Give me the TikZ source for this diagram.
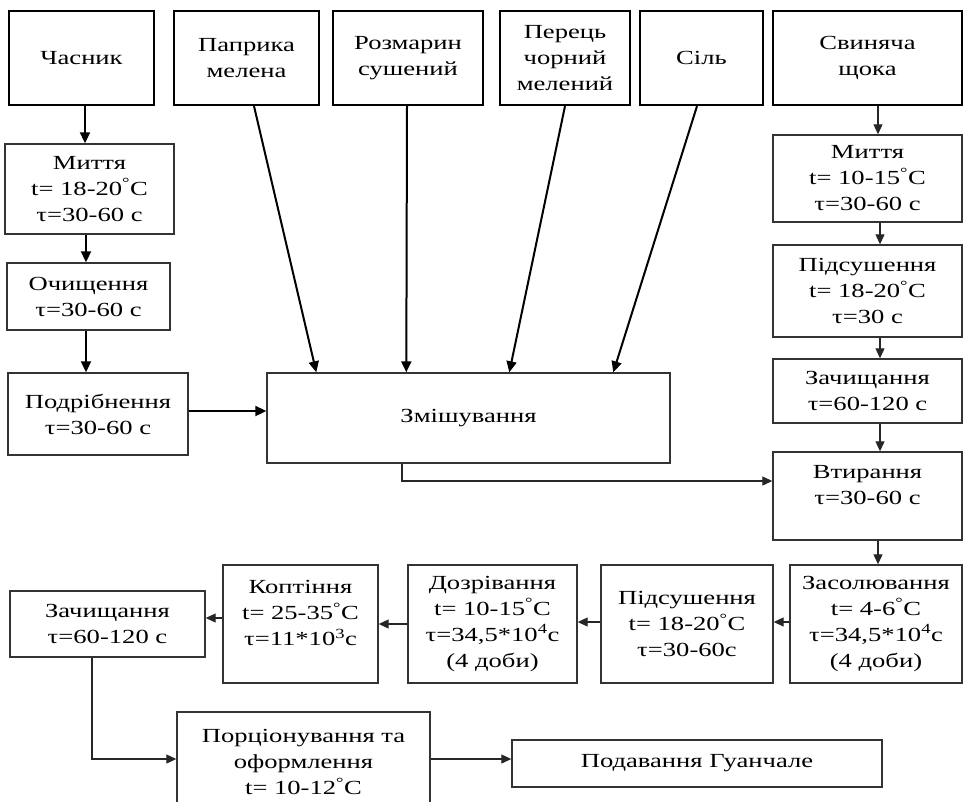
\documentclass[tikz,border=0pt]{standalone}
\usepackage{fontspec}
\setmainfont{Liberation Serif}[FakeStretch=1.33]
\usetikzlibrary{arrows.meta,calc}

\tikzset{
  every node/.style={font=\fontsize{20}{26}\selectfont, align=center, inner sep=0pt},
  rawbox/.style={draw=black, line width=2.2pt, rectangle},
  stepbox/.style={draw=black!80, line width=1.4pt, rectangle},
  lbl/.style={},
  arr/.style={line width=1.1pt, draw=black!85, -{Triangle[length=10pt,width=9pt]}},
  arrthick/.style={line width=2pt, draw=black, -{Triangle[length=11pt,width=10pt]}},
}

\begin{document}
\begin{tikzpicture}[x=1pt,y=-1pt]
\useasboundingbox (0,0) rectangle (964,801);
\clip (0,0) rectangle (964,801);
\fill[white] (0,0) rectangle (964,801);

% raw materials
\node[rawbox, minimum width=145, minimum height=94] (chas)   at (81.5,58)  {Часник};
\node[rawbox, minimum width=145, minimum height=94] (papr)   at (246.5,58) {Паприка\\мелена};
\node[rawbox, minimum width=150, minimum height=94] (rozm)   at (408,58)   {Розмарин\\сушений};
\node[rawbox, minimum width=130, minimum height=94] (perets) at (565,58)   {Перець\\чорний\\мелений};
\node[rawbox, minimum width=123, minimum height=94] (sil)    at (701.5,58) {Сіль};
\node[rawbox, minimum width=189, minimum height=94] (svyn)   at (867.5,58) {Свиняча\\щока};

% garlic line
\node[stepbox, minimum width=169, minimum height=90] (myt1)  at (89.5,189)  {Миття\\t= 18-20\textsuperscript{°}C\\τ=30-60 с};
\node[stepbox, minimum width=163, minimum height=67] (ochys) at (88.5,296.5) {Очищення\\τ=30-60 с};
\node[stepbox, minimum width=180, minimum height=82] (podr)  at (98,414)    {Подрібнення\\τ=30-60 с};

% mixing
\node[stepbox, minimum width=403, minimum height=90] (zmish) at (468.5,418) {Змішування};

% pork cheek line
\node[stepbox, minimum width=189, minimum height=87] (myt2)  at (867.5,178.5) {Миття\\t= 10-15\textsuperscript{°}C\\τ=30-60 с};
\node[stepbox, minimum width=189, minimum height=92] (pids1) at (867.5,291)   {Підсушення\\t= 18-20\textsuperscript{°}C\\τ=30 с};
\node[stepbox, minimum width=189, minimum height=64] (zach1) at (867.5,391)   {Зачищання\\τ=60-120 с};
\node[stepbox, minimum width=189, minimum height=88] (vtyr)  at (867.5,496)   {};
\node[lbl] (vtyrT) at (867.5,485) {Втирання\\τ=30-60 с};

% processing row
\node[stepbox, minimum width=172, minimum height=118] (zasol) at (876,624)   {Засолювання\\t= 4-6\textsuperscript{°}C\\τ=34,5*10\textsuperscript{4}с\\(4 доби)};
\node[stepbox, minimum width=172, minimum height=118] (pids2) at (687,624)   {Підсушення\\t= 18-20\textsuperscript{°}C\\τ=30-60с};
\node[stepbox, minimum width=169, minimum height=118] (dozr)  at (492.5,624) {Дозрівання\\t= 10-15\textsuperscript{°}C\\τ=34,5*10\textsuperscript{4}с\\(4 доби)};
\node[stepbox, minimum width=155, minimum height=118] (kopt)  at (300.5,624) {};
\node[lbl] (koptT) at (300.5,613) {Коптіння\\t= 25-35\textsuperscript{°}C\\τ=11*10\textsuperscript{3}с};
\node[stepbox, minimum width=195, minimum height=66]  (zach2) at (107.5,624) {Зачищання\\τ=60-120 с};

% final steps
\node[stepbox, minimum width=253, minimum height=100] (porc)  at (303.5,762) {Порціонування та\\оформлення\\t= 10-12\textsuperscript{°}C};
\node[stepbox, minimum width=370, minimum height=47]  (podav) at (697,763.5) {Подавання Гуанчале};

% garlic connectors
\draw[arrthick] ([xshift=3.5]chas.south) -- ([xshift=-4.5]myt1.north);
\draw[arrthick] ([xshift=-3.5]myt1.south) -- ([xshift=-2.5]ochys.north);
\draw[arrthick] ([xshift=-2.5]ochys.south) -- ([xshift=-12]podr.north);
\draw[arrthick] ([yshift=3]podr.east) -- ([yshift=3]podr.east -| zmish.west);

% spices into mixing
\draw[arrthick] ([xshift=7.5]papr.south) -- ([xshift=50]zmish.north west);
\draw[arrthick] ([xshift=-1]rozm.south) -- ([xshift=140]zmish.north west);
\draw[arrthick] (perets.south) -- ([xshift=243]zmish.north west);
\draw[arrthick] ([xshift=-4.5]sil.south) -- ([xshift=347]zmish.north west);

% pork cheek connectors
\coordinate (rc) at (880,0);
\draw[arr] ([xshift=10.5]svyn.south) -- ([xshift=10.5]myt2.north);
\draw[arr] (myt2.south -| rc) -- (pids1.north -| rc);
\draw[arr] (pids1.south -| rc) -- (zach1.north -| rc);
\draw[arr] (zach1.south -| rc) -- (vtyr.north -| rc);
\draw[arr] ([xshift=-66.5]zmish.south) |- ([yshift=15]vtyr.west);
\draw[arr] ([xshift=10.5]vtyr.south) -- ([xshift=2]zasol.north);

% processing row connectors
\draw[arr] ([yshift=2]zasol.west) -- ([yshift=2]zasol.west -| pids2.east);
\draw[arr] ([yshift=2]pids2.west) -- ([yshift=2]pids2.west -| dozr.east);
\draw[arr] (dozr.west) -- (kopt.east);
\draw[arr] ([yshift=6]kopt.west) -- ([yshift=6]kopt.west -| zach2.east);
\draw[arr] ([xshift=-15.5]zach2.south) |- ([yshift=3]porc.west);
\draw[arr] ([yshift=3]porc.east) -- ([yshift=3]porc.east -| podav.west);
\end{tikzpicture}
\end{document}
